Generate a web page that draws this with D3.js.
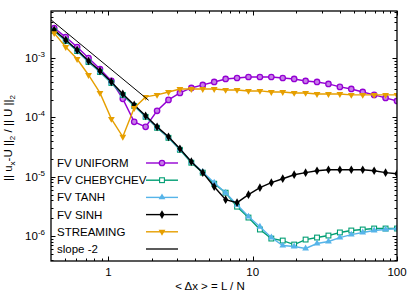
<!DOCTYPE html>
<html>
<head>
<meta charset="utf-8">
<script src="https://cdn.jsdelivr.net/npm/d3@7"></script>
<style>
body{margin:0;background:#fff}
text{font-family:"Liberation Sans",Arial,Helvetica,sans-serif;fill:#000}
</style>
</head>
<body>
<svg id="chart" width="415" height="291"></svg>
<script>
// <dx> = L/N  (same grid for every run)
let dxValues = [0.421,0.506,0.607,0.728,0.874,1.048,1.258,1.509,1.811,2.174,2.608,3.130,3.756,4.507,5.409,6.491,7.789,9.346,11.22,13.46,16.15,19.38,23.26,27.91,33.49,40.19,48.23,57.87,69.44,83.33,100]

// relative L2 error
let uniformErr = [3.19e-3,2.25e-3,1.53e-3,1.00e-3,6.53e-4,4.11e-4,2.05e-4,8.40e-5,6.92e-5,1.29e-4,1.97e-4,2.58e-4,3.13e-4,3.52e-4,3.95e-4,4.44e-4,4.61e-4,4.79e-4,4.79e-4,4.79e-4,4.61e-4,4.44e-4,4.11e-4,3.95e-4,3.66e-4,3.26e-4,3.01e-4,2.68e-4,2.39e-4,2.13e-4,1.89e-4]
let chebyErr = [2.85e-3,1.94e-3,1.31e-3,8.57e-4,5.82e-4,3.80e-4,2.39e-4,1.56e-4,1.02e-4,6.67e-5,4.52e-5,2.84e-5,1.72e-5,1.17e-5,7.62e-6,5.38e-6,3.13e-6,2.05e-6,1.29e-6,9.08e-7,8.40e-7,7.19e-7,8.73e-7,9.44e-7,1.02e-6,1.15e-6,1.24e-6,1.29e-6,1.34e-6,1.34e-6,1.34e-6]
let tanhErr = [2.90e-3,1.97e-3,1.33e-3,8.70e-4,5.90e-4,3.85e-4,2.42e-4,1.58e-4,1.03e-4,6.80e-5,4.60e-5,2.90e-5,1.79e-5,1.20e-5,7.93e-6,5.38e-6,3.38e-6,2.13e-6,1.44e-6,9.44e-7,6.92e-7,6.67e-7,6.17e-7,7.48e-7,8.09e-7,9.44e-7,1.06e-6,1.15e-6,1.24e-6,1.29e-6,1.34e-6]
let sinhErr = [2.96e-3,2.01e-3,1.36e-3,8.91e-4,6.05e-4,3.95e-4,2.48e-4,1.62e-4,1.06e-4,6.92e-5,4.70e-5,2.96e-5,1.79e-5,1.17e-5,6.79e-6,4.10e-6,3.65e-6,4.98e-6,6.53e-6,7.93e-6,9.25e-6,1.08e-5,1.17e-5,1.26e-5,1.31e-5,1.31e-5,1.31e-5,1.31e-5,1.26e-5,1.17e-5,1.12e-5]
let streamErr = [2.63e-3,1.53e-3,9.62e-4,5.18e-4,2.58e-4,9.44e-5,4.70e-5,1.44e-4,2.21e-4,2.39e-4,2.68e-4,3.01e-4,3.01e-4,3.01e-4,3.01e-4,2.90e-4,2.90e-4,2.79e-4,2.79e-4,2.68e-4,2.68e-4,2.58e-4,2.58e-4,2.48e-4,2.48e-4,2.48e-4,2.39e-4,2.39e-4,2.39e-4,2.39e-4,2.39e-4]

// reference slope line end points
let slopeX = [0.4, 1.9]
let slopeY = [4.4e-3, 1.94e-4]

let seriesNames = ["FV UNIFORM","FV CHEBYCHEV","FV TANH","FV SINH","STREAMING","slope -2"]
let xTickValues = [1, 10, 100]
let yTickExponents = [-6, -5, -4, -3]

let svg = d3.select("#chart")
let plotL = 51, plotR = 397, plotT = 11, plotB = 261

let x = d3.scaleLog().domain([0.4, 100]).range([plotL, plotR])
let y = d3.scaleLog().domain([3.8e-7, 6.2e-3]).range([plotB, plotT])

svg.append("defs").append("clipPath").attr("id", "plotClip")
    .append("rect").attr("x", plotL).attr("y", plotT).attr("width", plotR - plotL).attr("height", plotB - plotT)

//tick marks, inward on all four sides
let xMinor = []
for (let d = -1; d <= 1; d++) {
    for (let m = 2; m <= 9; m++) {
        let v = m * Math.pow(10, d)
        if (v > 0.4 && v < 100) xMinor.push(v)
    }
}
let yMinor = []
for (let d = -7; d <= -3; d++) {
    for (let m = 2; m <= 9; m++) {
        let v = m * Math.pow(10, d)
        if (v > 3.8e-7 && v < 6.2e-3) yMinor.push(v)
    }
}
let ticks = svg.append("g").attr("stroke", "#000").attr("stroke-width", 1)
xTickValues.concat(xMinor).forEach(function (v) {
    let len = xTickValues.includes(v) ? 4.5 : 2.5
    let px = Math.round(x(v)) + 0.5
    ticks.append("line").attr("x1", px).attr("x2", px).attr("y1", plotB).attr("y2", plotB - len)
    ticks.append("line").attr("x1", px).attr("x2", px).attr("y1", plotT).attr("y2", plotT + len)
})
yTickExponents.map(e => Math.pow(10, e)).concat(yMinor).forEach(function (v, i) {
    let len = i < yTickExponents.length ? 4.5 : 2.5
    let py = Math.round(y(v)) + 0.5
    ticks.append("line").attr("x1", plotL).attr("x2", plotL + len).attr("y1", py).attr("y2", py)
    ticks.append("line").attr("x1", plotR).attr("x2", plotR - len).attr("y1", py).attr("y2", py)
})

//tick labels
xTickValues.forEach(function (v) {
    svg.append("text").attr("x", x(v)).attr("y", 276).attr("text-anchor", "middle")
        .attr("font-size", "11.5px").text(v)
})
yTickExponents.forEach(function (e) {
    let t = svg.append("text").attr("x", 45).attr("y", y(Math.pow(10, e)) + 4)
        .attr("text-anchor", "end").attr("font-size", "11.5px")
    t.append("tspan").text("10")
    t.append("tspan").attr("dy", -5).attr("font-size", "8px").text(e)
})

//axis titles
svg.append("text").attr("x", 210).attr("y", 290).attr("text-anchor", "middle")
    .attr("font-size", "11.5px").text("< Δx > = L / N")
let ylab = svg.append("text").attr("transform", "translate(12,138) rotate(-90)")
    .attr("text-anchor", "middle").attr("font-size", "11.5px")
ylab.append("tspan").text("|| u")
ylab.append("tspan").attr("dy", 3).attr("font-size", "8px").text("x")
ylab.append("tspan").attr("dy", -3).text("-U ||")
ylab.append("tspan").attr("dy", 3).attr("font-size", "8px").text("2")
ylab.append("tspan").attr("dy", -3).text(" / || U ||")
ylab.append("tspan").attr("dy", 3).attr("font-size", "8px").text("2")

//series style table
let series = [
    { name: seriesNames[0], values: uniformErr, color: "#9400d3", mark: "circle" },
    { name: seriesNames[1], values: chebyErr, color: "#009e73", mark: "square" },
    { name: seriesNames[2], values: tanhErr, color: "#56b4e9", mark: "triUp" },
    { name: seriesNames[3], values: sinhErr, color: "#000000", mark: "diamond" },
    { name: seriesNames[4], values: streamErr, color: "#e69f00", mark: "triDown" }
]

function drawMark(g, mark, color, cx, cy) {
    if (mark === "circle") {
        g.append("circle").attr("cx", cx).attr("cy", cy).attr("r", 2.7)
            .attr("fill", "#c77ee8").attr("stroke", color).attr("stroke-width", 1.3)
    } else if (mark === "square") {
        g.append("rect").attr("x", cx - 2.4).attr("y", cy - 2.4).attr("width", 4.8).attr("height", 4.8)
            .attr("fill", "#fff").attr("stroke", color).attr("stroke-width", 1.1)
    } else {
        let sym = mark === "diamond" ? d3.symbolDiamond : d3.symbolTriangle
        let rot = mark === "triDown" ? 180 : 0
        g.append("path").attr("d", d3.symbol().type(sym).size(mark === "diamond" ? 22 : 20)())
            .attr("transform", "translate(" + cx + "," + cy + ") rotate(" + rot + ")")
            .attr("fill", color)
    }
}

let line = d3.line().x(d => x(d[0])).y(d => y(d[1]))
let plot = svg.append("g").attr("clip-path", "url(#plotClip)")

series.forEach(function (s) {
    let pts = dxValues.map((v, i) => [v, s.values[i]])
    plot.append("path").datum(pts).attr("d", line)
        .attr("fill", "none").attr("stroke", s.color).attr("stroke-width", 1.4)
    let mg = plot.append("g")
    pts.forEach(p => drawMark(mg, s.mark, s.color, x(p[0]), y(p[1])))
})

plot.append("path").datum(slopeX.map((v, i) => [v, slopeY[i]])).attr("d", line)
    .attr("fill", "none").attr("stroke", "#000").attr("stroke-width", 1)

//legend (Left justified text, sample to the right)
let legendY0 = 163, legendStep = 17.2
series.concat([{ name: seriesNames[5], color: "#333", mark: null }]).forEach(function (s, i) {
    let ly = legendY0 + i * legendStep
    svg.append("text").attr("x", 57).attr("y", ly + 4).attr("font-size", "11.5px").text(s.name)
    svg.append("line").attr("x1", 146).attr("x2", 178).attr("y1", ly).attr("y2", ly)
        .attr("stroke", s.color).attr("stroke-width", s.mark ? 1.4 : 1.6)
    if (s.mark) drawMark(svg, s.mark, s.color, 162, ly)
})

//frame
svg.append("rect").attr("x", plotL).attr("y", plotT).attr("width", plotR - plotL).attr("height", plotB - plotT)
    .attr("fill", "none").attr("stroke", "#000").attr("stroke-width", 1.3)
</script>
</body>
</html>
